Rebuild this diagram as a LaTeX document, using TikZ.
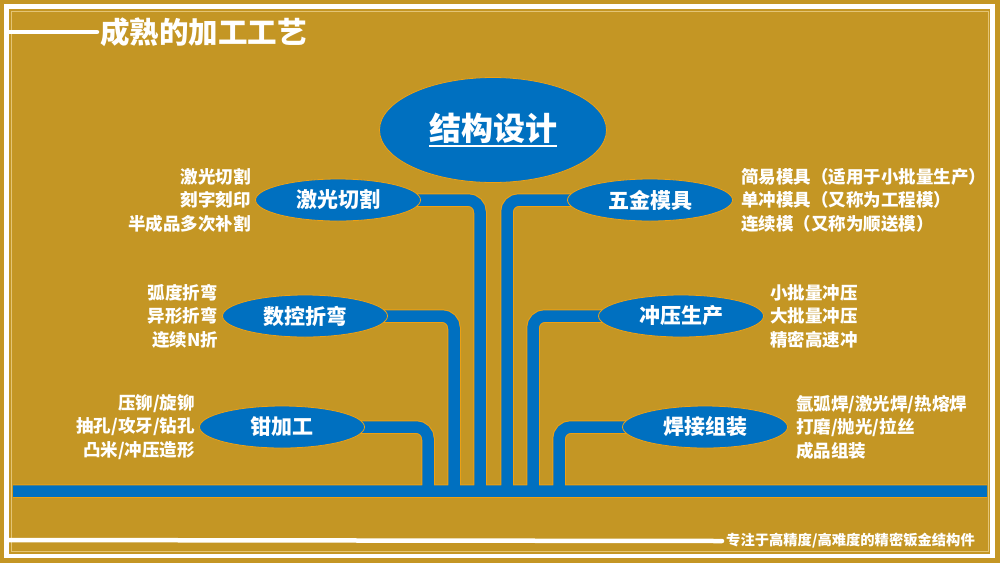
\documentclass[tikz,border=0pt]{standalone}
\usepackage{fontspec}
\setmainfont{Noto Sans CJK SC}
\usepackage{tikz}
\usetikzlibrary{shapes.geometric, positioning, backgrounds}
\definecolor{gold}{RGB}{196,150,36}
\definecolor{pipeblue}{RGB}{0,112,192}
\definecolor{pipeedge}{RGB}{236,160,20}
\definecolor{framelight}{RGB}{228,196,116}
\newcommand\thickul[1]{\vtop{\hbox{#1}\kern1.5pt\hrule height 2pt}}
\tikzstyle{mainbox} = [ellipse, minimum width=227pt, minimum height=105pt, inner sep=0pt, draw=pipeedge, line width=0.8pt, fill=pipeblue, text=white, font=\fontsize{32}{32}\selectfont\bfseries]
\tikzstyle{branch} = [ellipse, minimum width=165pt, minimum height=42pt, inner sep=0pt, draw=pipeedge, line width=0.8pt, fill=pipeblue, text=white, font=\fontsize{21}{21}\selectfont\bfseries]
\tikzstyle{leftlist} = [align=right, inner sep=0pt, text=white, font=\fontsize{17.5}{23.5}\selectfont\bfseries]
\tikzstyle{rightlist} = [align=left, inner sep=0pt, text=white, font=\fontsize{17.5}{23.5}\selectfont\bfseries]
\tikzstyle{pipe} = [rounded corners=12pt]

\begin{document}
\begin{tikzpicture}[x=1pt, y=-1pt]
        \useasboundingbox (0,0) rectangle (1000,563);

        % frame
        \draw[white, line width=4.5pt] (6.5,6.5) rectangle (992.5,556);
        \draw[framelight, line width=0.8pt] (11,11) rectangle (988,551);
        \coordinate (tl) at (8,32);
        \coordinate (bl) at (8,540);
        \node (title) [anchor=west, inner sep=3pt, text=white, font=\fontsize{29.5}{29.5}\selectfont\bfseries] at (97,32) {成熟的加工工艺};
        \node (slogan) [anchor=west, inner sep=4pt, text=white, font=\fontsize{14.3}{14.3}\selectfont\bfseries] at (722,541) {专注于高精度/高难度的精密钣金结构件};
        \draw[white, line width=4.5pt, line cap=round] (tl) -- (title.west);
        \draw[white, line width=4.5pt, line cap=round] (bl) -- (slogan.west);

        % processes
        \node (design) [mainbox] at (493,130) {\thickul{结构设计}};
        \node (laser) [branch] at (338,200) {激光切割};
        \node (hardware) [branch] at (650,200) {五金模具};
        \node (bending) [branch] at (305,316) {数控折弯};
        \node (stamping) [branch] at (681,316) {冲压生产};
        \node (pliers) [branch] at (282,427) {钳加工};
        \node (welding) [branch] at (705,427) {焊接组装};

        \node (laserlist) [leftlist, left=4pt of laser] {激光切割\\刻字刻印\\半成品多次补割};
        \node (hardwarelist) [rightlist, right=8pt of hardware] {简易模具（适用于小批量生产）\\单冲模具（又称为工程模）\\连续模（又称为顺送模）};
        \node (bendinglist) [leftlist, left=4pt of bending] {弧度折弯\\异形折弯\\连续N折};
        \node (stampinglist) [rightlist, right=6pt of stamping] {小批量冲压\\大批量冲压\\精密高速冲};
        \node (plierslist) [leftlist, left=4pt of pliers] {压铆/旋铆\\抽孔/攻牙/钻孔\\凸米/冲压造形};
        \node (weldinglist) [rightlist, right=8pt of welding] {氩弧焊/激光焊/热熔焊\\打磨/抛光/拉丝\\成品组装};

        % base bar
        \coordinate (barL) at (13,491);
        \coordinate (barR) at (987,491);
        \coordinate (b1) at (428,491);
        \coordinate (b2) at (454,491);
        \coordinate (b3) at (480,491);
        \coordinate (b4) at (507,491);
        \coordinate (b5) at (533,491);
        \coordinate (b6) at (559,491);

        \begin{scope}[on background layer]
            \fill[gold] (0,0) rectangle (1000,563);
            \foreach \w/\c in {13.5/pipeedge, 11.5/pipeblue} {
                \draw[pipe, line width=\w pt, \c] (laser.center) -| (b3)
                    (hardware.center) -| (b4)
                    (bending.center) -| (b2)
                    (stamping.center) -| (b5)
                    (pliers.center) -| (b1)
                    (welding.center) -| (b6)
                    (barL) -- (barR);
            }
        \end{scope}
    \end{tikzpicture}
\end{document}
